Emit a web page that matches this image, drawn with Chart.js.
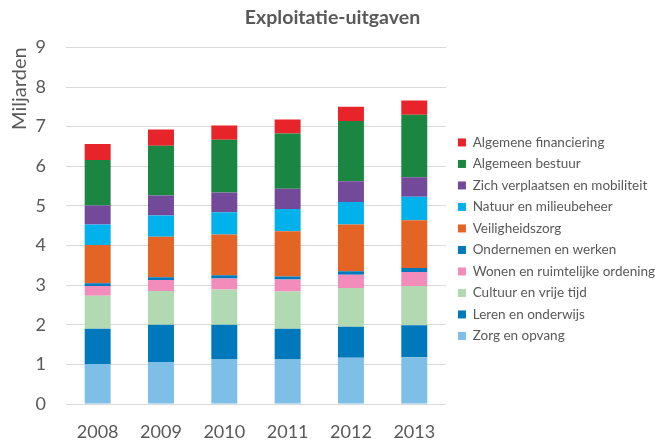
<!DOCTYPE html>
<html>
<head>
<meta charset="utf-8">
<script src="https://cdn.jsdelivr.net/npm/chart.js@4/dist/chart.umd.min.js"></script>
<style>
html,body{margin:0;padding:0;background:#fff;}
#wrap{width:671px;height:444px;position:relative;}
</style>
</head>
<body>
<div id="wrap"><canvas id="c" width="671" height="444"></canvas></div>
<script>
const years = ['2008','2009','2010','2011','2012','2013'];
const zorg = [1.01,1.06,1.12,1.12,1.17,1.18];
const leren = [0.89,0.94,0.88,0.78,0.78,0.81];
const cultuur = [0.83,0.85,0.89,0.94,0.98,0.99];
const wonen = [0.25,0.28,0.28,0.30,0.33,0.35];
const ondernemen = [0.07,0.07,0.08,0.08,0.09,0.10];
const veiligheid = [0.96,1.02,1.03,1.14,1.18,1.21];
const natuur = [0.52,0.54,0.56,0.56,0.57,0.59];
const mobiliteit = [0.48,0.50,0.50,0.51,0.52,0.49];
const bestuur = [1.15,1.26,1.33,1.40,1.52,1.58];
const financiering = [0.40,0.41,0.36,0.35,0.36,0.36];

const seriesNames = ['Zorg en opvang','Leren en onderwijs','Cultuur en vrije tijd','Wonen en ruimtelijke ordening','Ondernemen en werken','Veiligheidszorg','Natuur en milieubeheer','Zich verplaatsen en mobiliteit','Algemeen bestuur','Algemene financiering'];
const seriesValues = [zorg,leren,cultuur,wonen,ondernemen,veiligheid,natuur,mobiliteit,bestuur,financiering];
const seriesColors = ['#7DBFE7','#0079BC','#B1DAB3','#F28CBB','#0079BC','#E46426','#00B1EB','#734A9A','#1B8641','#E62429'];

const FONT = 'Lato, "Open Sans", sans-serif';
const GREY = '#595959';

new Chart(document.getElementById('c'), {
  type: 'bar',
  data: {
    labels: years,
    datasets: seriesNames.map((n,i)=>({
      label: n,
      data: seriesValues[i],
      backgroundColor: seriesColors[i],
      borderWidth: 0,
      barPercentage: 0.41,
      categoryPercentage: 1
    }))
  },
  options: {
    responsive: false,
    animation: false,
    layout: {padding: {left: 0, right: 6, top: 0, bottom: 1}},
    plugins: {
      title: {
        display: true,
        text: 'Exploitatie-uitgaven',
        color: GREY,
        font: {family: FONT, size: 19.5, weight: 'bold'},
        padding: {top: 6, bottom: 18}
      },
      legend: {
        position: 'right',
        reverse: true,
        maxWidth: 260,
        title: {display: true, text: ' ', font: {size: 12}, padding: {top: 21, bottom: 0}},
        labels: {
          boxWidth: 8,
          boxHeight: 8,
          padding: 8,
          color: GREY,
          font: {family: FONT, size: 13.5}
        }
      },
      tooltip: {enabled: false}
    },
    scales: {
      x: {
        stacked: true,
        afterFit: (s) => { s.height = 39; },
        grid: {display: false, drawTicks: false},
        border: {display: false},
        ticks: {color: GREY, font: {family: FONT, size: 18}, padding: 17, maxRotation: 0, minRotation: 0}
      },
      y: {
        stacked: true,
        min: 0,
        max: 9,
        afterFit: (s) => { s.width = 66; },
        ticks: {stepSize: 1, color: GREY, font: {family: FONT, size: 18}, padding: 20},
        grid: {color: '#D9D9D9', drawTicks: false},
        border: {display: false},
        title: {
          display: true,
          text: 'Miljarden',
          align: 'end',
          color: GREY,
          font: {family: FONT, size: 20},
          padding: {top: 8, bottom: 4}
        }
      },
      gap: {
        position: 'right',
        display: true,
        afterFit: (s) => { s.width = 4; },
        ticks: {display: false},
        grid: {display: false},
        border: {display: false}
      }
    }
  }
});
</script>
</body>
</html>
